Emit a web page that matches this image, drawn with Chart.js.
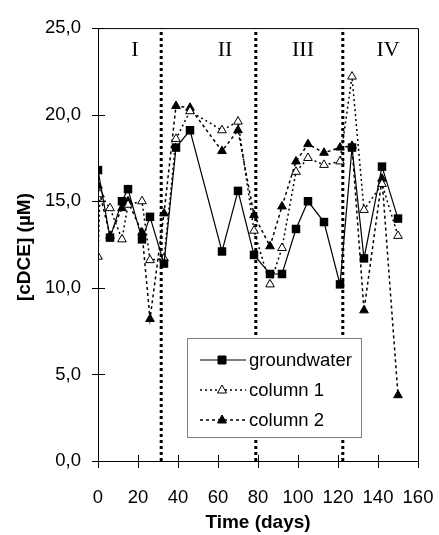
<!DOCTYPE html>
<html>
<head>
<meta charset="UTF-8">
<title>cDCE</title>
<script src="https://cdn.jsdelivr.net/npm/chart.js"></script>
<style>
  body { margin: 0; background: white; }
</style>
</head>
<body>
<canvas id="chart" width="439" height="535"></canvas>
<script>
// sampling days and concentrations (µM)
const gwDays = [0, 6, 12, 15, 22, 26, 33, 39, 46, 62, 70, 78, 86, 92, 99, 105, 113, 121, 127, 133, 142, 150];
const groundwater = [16.8, 12.9, 15.0, 15.7, 12.8, 14.1, 11.4, 18.1, 19.1, 12.1, 15.6, 11.9, 10.8, 10.8, 13.4, 15.0, 13.8, 10.2, 18.1, 11.7, 17.0, 14.0];

const col1Days = [0, 1, 6, 12, 15, 22, 26, 33, 39, 46, 62, 70, 78, 86, 92, 99, 105, 113, 121, 127, 133, 142, 150];
const column1 = [11.8, 15.4, 14.6, 12.8, 14.8, 15.0, 11.6, 11.7, 18.6, 20.2, 19.1, 19.6, 13.3, 10.2, 12.3, 16.7, 17.5, 17.1, 17.3, 22.2, 14.5, 16.0, 13.0];

const col2Days = [0, 6, 12, 15, 22, 26, 33, 39, 46, 62, 70, 78, 86, 92, 99, 105, 113, 121, 127, 133, 142, 150];
const column2 = [15.9, 13.0, 14.6, 15.0, 13.2, 8.2, 14.3, 20.5, 20.4, 17.9, 19.1, 14.2, 12.4, 14.7, 17.3, 18.3, 17.8, 18.1, 18.2, 8.7, 16.3, 3.8];

// phase boundaries (days) and phase names
const phaseBounds = [31.6, 78.9, 122.4];
const phaseNames = ['I', 'II', 'III', 'IV'];
const phaseNameDays = [18.5, 63.5, 102.5, 145];

const xTicks = [0, 20, 40, 60, 80, 100, 120, 140, 160];
const yTicks = [0, 5, 10, 15, 20, 25];

const pts = (xs, ys) => xs.map((x, i) => ({ x: x, y: ys[i] }));

const dividerSets = phaseBounds.map(d => ({
    label: 'phase',
    data: [{ x: d, y: 0 }, { x: d, y: 25 }],
    borderColor: '#000',
    borderWidth: 3,
    borderDash: [3, 3],
    pointRadius: 0,
    order: 5
}));

const legendItems = [
    { text: 'groundwater', dash: [], style: 'rect', fill: '#000' },
    { text: 'column 1', dash: [2, 3], style: 'triangle', fill: '#fff' },
    { text: 'column 2', dash: [3, 3], style: 'triangle', fill: '#000' }
];

const decor = {
    id: 'decor',
    afterDatasetsDraw(chart) {
        const { ctx, chartArea: a, scales: { x, y } } = chart;
        ctx.save();
        // plot box
        ctx.strokeStyle = '#000';
        ctx.lineWidth = 1;
        ctx.setLineDash([]);
        ctx.beginPath();
        ctx.moveTo(a.left + 0.5, a.bottom + 0.5);
        ctx.lineTo(a.left + 0.5, a.top + 0.5);
        ctx.lineTo(a.right + 0.5, a.top + 0.5);
        ctx.lineTo(a.right + 0.5, a.bottom + 0.5);
        ctx.lineTo(a.left + 0.5, a.bottom + 0.5);
        ctx.stroke();
        // tick marks crossing the axes
        ctx.beginPath();
        xTicks.forEach(v => {
            const px = Math.round(x.getPixelForValue(v)) + 0.5;
            ctx.moveTo(px, a.bottom - 6);
            ctx.lineTo(px, a.bottom + 7);
        });
        yTicks.forEach(v => {
            const py = Math.round(y.getPixelForValue(v)) + 0.5;
            ctx.moveTo(a.left - 6, py);
            ctx.lineTo(a.left + 7, py);
        });
        ctx.stroke();
        // phase names
        ctx.fillStyle = '#000';
        ctx.font = '22px "Liberation Serif", "Times New Roman", serif';
        ctx.textAlign = 'center';
        ctx.textBaseline = 'middle';
        phaseNames.forEach((n, i) => {
            ctx.fillText(n, x.getPixelForValue(phaseNameDays[i]), y.getPixelForValue(23.75));
        });
        // legend
        const bx = 187, by = 338, bw = 174, bh = 99;
        ctx.fillStyle = '#fff';
        ctx.fillRect(bx, by, bw, bh);
        ctx.strokeStyle = '#808080';
        ctx.strokeRect(bx + 0.5, by + 0.5, bw, bh);
        ctx.font = '18.5px "Liberation Sans", Arial, sans-serif';
        ctx.textAlign = 'left';
        legendItems.forEach((it, i) => {
            const ly = by + 22 + i * 30;
            ctx.strokeStyle = '#000';
            ctx.lineWidth = it.dash.length ? 1.5 : 1.2;
            ctx.setLineDash(it.dash);
            ctx.beginPath();
            ctx.moveTo(200, ly);
            ctx.lineTo(246, ly);
            ctx.stroke();
            ctx.setLineDash([]);
            ctx.fillStyle = it.fill;
            ctx.strokeStyle = '#000';
            ctx.lineWidth = 1;
            ctx.beginPath();
            if (it.style === 'rect') {
                ctx.rect(222 - 4, ly - 4, 8, 8);
            } else {
                ctx.moveTo(222, ly - 5);
                ctx.lineTo(226.5, ly + 3);
                ctx.lineTo(217.5, ly + 3);
                ctx.closePath();
            }
            ctx.fill();
            ctx.stroke();
            ctx.fillStyle = '#000';
            ctx.fillText(it.text, 249, ly + 1);
        });
        // axis titles
        ctx.font = 'bold 19px "Liberation Sans", Arial, sans-serif';
        ctx.textAlign = 'center';
        ctx.fillText('Time (days)', (a.left + a.right) / 2, 523);
        ctx.translate(25, 247);
        ctx.rotate(-Math.PI / 2);
        ctx.fillText('[cDCE] (µM)', 0, 0);
        ctx.restore();
    }
};

new Chart(document.getElementById('chart'), {
    type: 'line',
    data: {
        datasets: [
            {
                label: 'groundwater',
                data: pts(gwDays, groundwater),
                borderColor: '#000',
                backgroundColor: '#000',
                borderWidth: 1.2,
                pointStyle: 'rect',
                pointRadius: 6,
                pointBorderWidth: 0,
                order: 0
            },
            {
                label: 'column 1',
                data: pts(col1Days, column1),
                borderColor: '#000',
                backgroundColor: '#fff',
                borderWidth: 1.5,
                borderDash: [2, 3],
                pointStyle: 'triangle',
                pointRadius: 5,
                pointBorderWidth: 1,
                order: 1
            },
            {
                label: 'column 2',
                data: pts(col2Days, column2),
                borderColor: '#000',
                backgroundColor: '#000',
                borderWidth: 1.5,
                borderDash: [3, 3],
                pointStyle: 'triangle',
                pointRadius: 5,
                pointBorderWidth: 1,
                order: 2
            },
            ...dividerSets
        ]
    },
    options: {
        responsive: false,
        animation: false,
        layout: { padding: { left: 0, right: 21, top: 20, bottom: 0 } },
        plugins: { legend: { display: false }, tooltip: { enabled: false } },
        scales: {
            x: {
                type: 'linear',
                min: 0,
                max: 160,
                afterFit: s => { s.height = 74; s.paddingRight = 0; },
                afterBuildTicks: s => { s.ticks = xTicks.map(v => ({ value: v })); },
                grid: { display: false, drawTicks: false },
                border: { display: false },
                ticks: {
                    padding: 26,
                    color: '#000',
                    font: { family: '"Liberation Sans", Arial, sans-serif', size: 18.5 }
                }
            },
            y: {
                min: 0,
                max: 25,
                afterFit: s => { s.width = 98; },
                afterBuildTicks: s => { s.ticks = yTicks.map(v => ({ value: v })); },
                grid: { display: false, drawTicks: false },
                border: { display: false },
                ticks: {
                    padding: 17,
                    color: '#000',
                    font: { family: '"Liberation Sans", Arial, sans-serif', size: 18.5 },
                    callback: v => v.toFixed(1).replace('.', ',')
                }
            }
        }
    },
    plugins: [decor]
});
</script>
</body>
</html>
